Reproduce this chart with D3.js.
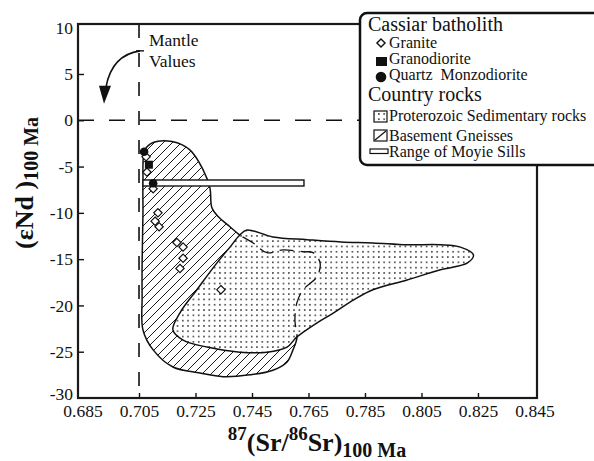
<!DOCTYPE html>
<html>
<head>
<meta charset="utf-8">
<script src="https://cdn.jsdelivr.net/npm/d3@7"></script>
<style>
  body { margin: 0; background: #fff; }
  text { font-family: "Liberation Serif", "Times New Roman", serif; fill: #111; }
</style>
</head>
<body>
<script>
const w = 594;
const h = 461;

// tick values
const xTicks = [0.685, 0.705, 0.725, 0.745, 0.765, 0.785, 0.805, 0.825, 0.845];
const yTicks = [10, 5, 0, -5, -10, -15, -20, -25, -30];

// Cassiar batholith samples [87Sr/86Sr, eNd]
const granite = [
  [0.7075, -3.95], [0.7078, -5.6], [0.7100, -7.4], [0.7117, -10.0],
  [0.7107, -10.9], [0.7121, -11.5], [0.7184, -13.2], [0.7206, -13.7],
  [0.7206, -14.9], [0.7195, -16.0], [0.7340, -18.3]
];
const granodiorite = [[0.7085, -4.8]];
const qtzMonzodiorite = [[0.7068, -3.4], [0.7100, -6.8]];

// basement gneisses field outline
const gneissOutline = [
  [0.7100, -2.4], [0.7167, -2.3], [0.7230, -3.2], [0.7277, -5.35], [0.7301, -7.3],
  [0.7308, -9.45], [0.7330, -10.4], [0.7372, -11.5], [0.7407, -12.4], [0.7454, -13.25],
  [0.7503, -14.3], [0.7560, -14.0], [0.7631, -14.2], [0.7666, -14.3], [0.7691, -15.4],
  [0.7680, -16.9], [0.7631, -18.3], [0.7609, -19.7], [0.7602, -21.6], [0.7609, -23.5],
  [0.7595, -24.8], [0.7574, -26.1], [0.7524, -27.0], [0.7443, -27.5], [0.7347, -27.7],
  [0.7266, -27.3], [0.7170, -26.65], [0.7100, -24.8], [0.7064, -22.65], [0.7061, -19.1],
  [0.7061, -15.4], [0.7064, -10.0], [0.7064, -6.75], [0.7071, -3.2]
];

// proterozoic sedimentary rocks field outline
const sedimentOutline = [
  [0.7407, -12.4], [0.7432, -11.85], [0.7524, -12.6], [0.7645, -12.9], [0.7765, -13.15],
  [0.7878, -13.25], [0.7999, -13.45], [0.8117, -13.45], [0.8188, -13.7], [0.8234, -14.55],
  [0.8213, -15.4], [0.8117, -16.15], [0.7999, -17.25], [0.7878, -18.3], [0.7810, -19.4],
  [0.7739, -20.8], [0.7679, -21.9], [0.7609, -23.4], [0.7574, -24.5], [0.7503, -25.05],
  [0.7407, -25.05], [0.7291, -24.5], [0.7206, -23.75], [0.7170, -22.65], [0.7195, -20.8],
  [0.7255, -18.3], [0.7326, -15.4], [0.7372, -13.7]
];

// range of Moyie sills
const moyieX = [0.7064, 0.7634];
const moyieY = [-6.45, -7.1];

// mantle reference lines
const mantleSr = 0.705;
const mantleNd = 0;

var x = d3.scaleLinear().domain([0.6834, 0.8459]).range([78, 537]);
var y = d3.scaleLinear().domain([-30, 10.4]).range([398, 24]);

var svg = d3.select("body").append("svg")
  .attr("width", w)
  .attr("height", h);

var defs = svg.append("defs");

// hatch for gneisses
var hatch = defs.append("pattern")
  .attr("id", "hatch")
  .attr("patternUnits", "userSpaceOnUse")
  .attr("width", 9).attr("height", 9);
hatch.append("rect").attr("width", 9).attr("height", 9).attr("fill", "#fff");
hatch.append("path")
  .attr("d", "M-2,2 L2,-2 M0,9 L9,0 M7,11 L11,7")
  .attr("stroke", "#1a1a1a")
  .attr("stroke-width", 1.0);

// dots for sediments
var dots = defs.append("pattern")
  .attr("id", "dots")
  .attr("patternUnits", "userSpaceOnUse")
  .attr("width", 5.3).attr("height", 5.3);
dots.append("rect").attr("width", 5.3).attr("height", 5.3).attr("fill", "#fff");
dots.append("circle")
  .attr("cx", 2.6).attr("cy", 2.6).attr("r", 0.85)
  .attr("fill", "#222");

var line = d3.line()
  .x(d => x(d[0]))
  .y(d => y(d[1]))
  .curve(d3.curveCatmullRomClosed.alpha(0.5));

defs.append("clipPath").attr("id", "sedClip")
  .append("path").attr("d", line(sedimentOutline));

// mantle reference dashed lines
svg.append("line")
  .attr("x1", x(mantleSr)).attr("x2", x(mantleSr))
  .attr("y1", y.range()[1]).attr("y2", y.range()[0])
  .attr("stroke", "#111").attr("stroke-width", 1.6)
  .attr("stroke-dasharray", "14,15");
svg.append("line")
  .attr("x1", x.range()[0]).attr("x2", x.range()[1])
  .attr("y1", y(mantleNd)).attr("y2", y(mantleNd))
  .attr("stroke", "#111").attr("stroke-width", 1.6)
  .attr("stroke-dasharray", "16,15");

// fields
svg.append("path")
  .attr("d", line(gneissOutline))
  .attr("fill", "url(#hatch)")
  .attr("stroke", "#111")
  .attr("stroke-width", 1.5);

svg.append("path")
  .attr("d", line(sedimentOutline))
  .attr("fill", "url(#dots)")
  .attr("stroke", "#111")
  .attr("stroke-width", 1.5);

// hidden part of gneiss boundary, dashed inside the sediment field
svg.append("path")
  .attr("d", line(gneissOutline))
  .attr("clip-path", "url(#sedClip)")
  .attr("fill", "none")
  .attr("stroke", "#111")
  .attr("stroke-width", 1.3)
  .attr("stroke-dasharray", "14,7");

// Moyie sills bar
svg.append("rect")
  .attr("x", x(moyieX[0]))
  .attr("y", y(moyieY[0]))
  .attr("width", x(moyieX[1]) - x(moyieX[0]))
  .attr("height", y(moyieY[1]) - y(moyieY[0]))
  .attr("fill", "#fff")
  .attr("stroke", "#111")
  .attr("stroke-width", 1.4);

// samples
svg.append("g").selectAll("path")
  .data(granite)
  .enter().append("path")
  .attr("d", d3.symbol().type(d3.symbolDiamond2).size(44))
  .attr("transform", d => "translate(" + x(d[0]) + "," + y(d[1]) + ")")
  .attr("fill", "#fff")
  .attr("stroke", "#111")
  .attr("stroke-width", 1.2);

svg.append("g").selectAll("rect")
  .data(granodiorite)
  .enter().append("rect")
  .attr("x", d => x(d[0]) - 4)
  .attr("y", d => y(d[1]) - 4)
  .attr("width", 8).attr("height", 8)
  .attr("fill", "#111");

svg.append("g").selectAll("circle")
  .data(qtzMonzodiorite)
  .enter().append("circle")
  .attr("cx", d => x(d[0]))
  .attr("cy", d => y(d[1]))
  .attr("r", 4.3)
  .attr("fill", "#111");

// mantle annotation
var ax0 = x(mantleSr) + 1, ay0 = y(7.5);
svg.append("path")
  .attr("d", "M" + ax0 + "," + ay0 + " Q" + (ax0 - 28) + "," + (ay0 + 4) + " " + (ax0 - 34) + "," + (ay0 + 36))
  .attr("fill", "none")
  .attr("stroke", "#111")
  .attr("stroke-width", 1.6);
svg.append("path")
  .attr("d", "M" + (ax0 - 41) + "," + (ay0 + 35) + " L" + (ax0 - 29) + "," + (ay0 + 35) + " L" + (ax0 - 36) + "," + (ay0 + 53) + " Z")
  .attr("fill", "#111");
svg.append("line")
  .attr("x1", ax0 - 4).attr("x2", ax0 + 4)
  .attr("y1", ay0).attr("y2", ay0)
  .attr("stroke", "#111").attr("stroke-width", 1.4);
svg.append("text")
  .attr("x", ax0 + 9).attr("y", 46)
  .style("font-size", "17.5px")
  .text("Mantle");
svg.append("text")
  .attr("x", ax0 + 9).attr("y", 67)
  .style("font-size", "17.5px")
  .text("Values");

// axes
var xAxis = svg.append("g")
  .attr("transform", "translate(0," + y.range()[0] + ")")
  .call(d3.axisBottom(x).tickValues(xTicks).tickSize(-5).tickPadding(7).tickFormat(d3.format(".3f")));
var yAxis = svg.append("g")
  .attr("transform", "translate(" + x.range()[0] + ",0)")
  .call(d3.axisLeft(y).tickValues(yTicks).tickSize(-6).tickPadding(5).tickFormat(d => d < 0 ? "-" + Math.abs(d) : d));

[xAxis, yAxis].forEach(function(a) {
  a.select(".domain").remove();
  a.selectAll("text").style("font-size", "17.5px").attr("fill", "#111").style("font-family", "'Liberation Serif', serif");
  a.selectAll(".tick line").attr("stroke", "#111").attr("stroke-width", 1.4);
});
xAxis.selectAll(".tick").filter(d => d == 0.685 || d == 0.845).select("line").remove();
yAxis.selectAll(".tick").filter(d => d == 10 || d == -30).select("line").remove();
// bottom-left label sits a little higher, like the reference
yAxis.selectAll(".tick").filter(d => d == -30).select("text").attr("dy", "0.1em");

// frame
svg.append("rect")
  .attr("x", x.range()[0])
  .attr("y", y.range()[1])
  .attr("width", x.range()[1] - x.range()[0])
  .attr("height", y.range()[0] - y.range()[1])
  .attr("fill", "none")
  .attr("stroke", "#1a1a1a")
  .attr("stroke-width", 2.2);

// axis titles
var xt = svg.append("text")
  .attr("x", 317).attr("y", 451)
  .attr("text-anchor", "middle")
  .style("font-weight", "bold");
xt.append("tspan").style("font-size", "19px").attr("dy", -11).text("87");
xt.append("tspan").style("font-size", "26px").attr("dy", 11).text("(Sr/");
xt.append("tspan").style("font-size", "19px").attr("dy", -11).text("86");
xt.append("tspan").style("font-size", "26px").attr("dy", 11).text("Sr)");
xt.append("tspan").style("font-size", "20px").attr("dy", 6).text("100 Ma");

var yt = svg.append("text")
  .attr("transform", "translate(33,183) rotate(-90)")
  .attr("text-anchor", "middle")
  .style("font-weight", "bold");
yt.append("tspan").style("font-size", "26px").text("(εNd )");
yt.append("tspan").style("font-size", "20px").attr("dy", 5).text("100 Ma");

// legend
var lg = svg.append("g");
lg.append("rect")
  .attr("x", 360).attr("y", 13)
  .attr("width", 260).attr("height", 152)
  .attr("rx", 7)
  .attr("fill", "#fff")
  .attr("stroke", "#111")
  .attr("stroke-width", 2.5);

lg.append("text").attr("x", 368).attr("y", 31).style("font-size", "20px").text("Cassiar batholith");
lg.append("path")
  .attr("d", d3.symbol().type(d3.symbolDiamond2).size(42))
  .attr("transform", "translate(381,43)")
  .attr("fill", "#fff").attr("stroke", "#111").attr("stroke-width", 1.4);
lg.append("text").attr("x", 389).attr("y", 48).style("font-size", "16px").text("Granite");
lg.append("rect").attr("x", 376).attr("y", 57).attr("width", 11).attr("height", 9).attr("fill", "#111");
lg.append("text").attr("x", 389).attr("y", 64).style("font-size", "16px").text("Granodiorite");
lg.append("circle").attr("cx", 381).attr("cy", 77).attr("r", 5.3).attr("fill", "#111");
lg.append("text").attr("x", 389).attr("y", 80).style("font-size", "16px").style("white-space", "pre").text("Quartz  Monzodiorite");

lg.append("text").attr("x", 368).attr("y", 101).style("font-size", "20px").text("Country rocks");
lg.append("rect").attr("x", 374).attr("y", 111).attr("width", 13).attr("height", 11)
  .attr("fill", "url(#dots)").attr("stroke", "#111").attr("stroke-width", 1.2);
lg.append("text").attr("x", 389).attr("y", 121).style("font-size", "16px").text("Proterozoic Sedimentary rocks");
lg.append("rect").attr("x", 374).attr("y", 130).attr("width", 13).attr("height", 11)
  .attr("fill", "#fff").attr("stroke", "#111").attr("stroke-width", 1.2);
lg.append("line").attr("x1", 375).attr("y1", 140).attr("x2", 386).attr("y2", 131)
  .attr("stroke", "#111").attr("stroke-width", 1.2);
lg.append("text").attr("x", 389).attr("y", 141).style("font-size", "16px").text("Basement Gneisses");
lg.append("rect").attr("x", 370).attr("y", 149).attr("width", 18).attr("height", 4.5)
  .attr("fill", "#fff").attr("stroke", "#111").attr("stroke-width", 1.2);
lg.append("text").attr("x", 389).attr("y", 157).style("font-size", "16px").text("Range of Moyie Sills");
</script>
</body>
</html>
